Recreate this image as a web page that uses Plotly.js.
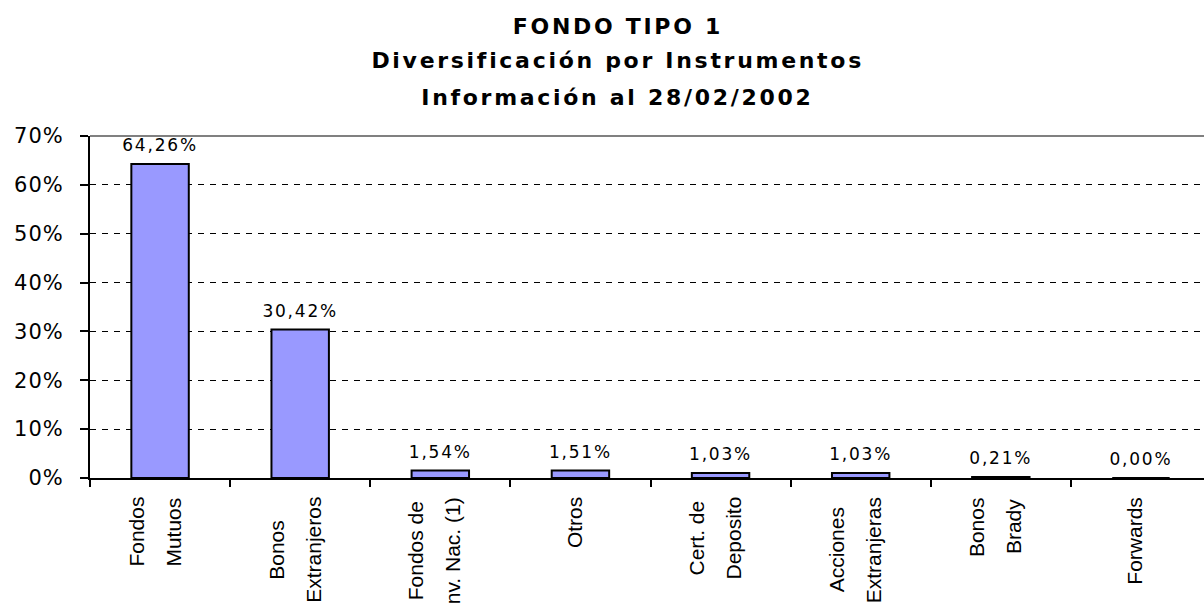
<!DOCTYPE html>
<html>
<head>
<meta charset="utf-8">
<script src="https://cdn.plot.ly/plotly-3.0.1.min.js"></script>
<style>
html,body{margin:0;padding:0;background:#fff;}
#chart{width:1204px;height:605px;}
.textpoint text{letter-spacing:1.8px;}
.ytick text{letter-spacing:1px;}
</style>
</head>
<body>
<div id="chart"></div>
<script>
const titleLines = ["FONDO TIPO 1", "Diversificación por Instrumentos", "Información al 28/02/2002"];
const categories = ["Fondos Mutuos", "Bonos Extranjeros", "Fondos de Inv. Nac. (1)", "Otros", "Cert. de Deposito", "Acciones Extranjeras", "Bonos Brady", "Forwards"];
const tickLabels = ["Fondos<br>Mutuos", "Bonos<br>Extranjeros", "Fondos de<br>nv. Nac. (1)", "Otros", "Cert. de<br>Deposito", "Acciones<br>Extranjeras", "Bonos<br>Brady", "Forwards"];
const values = [64.26, 30.42, 1.54, 1.51, 1.03, 1.03, 0.21, 0.00];
const yTicks = [0, 10, 20, 30, 40, 50, 60, 70];
const yTickLabels = ["0%", "10%", "20%", "30%", "40%", "50%", "60%", "70%"];

const LABEL_FONT = {family: 'Liberation Sans, Arial, sans-serif', size: 21, color: '#000'};
const TITLE_FONT = {family: 'DejaVu Sans, Verdana, sans-serif', size: 22, color: '#000', weight: 700};

const ctx = document.createElement('canvas').getContext('2d');
ctx.font = '21px "Liberation Sans", Arial, sans-serif';

const annotations = [];
const titleY = [26, 60, 97];
titleLines.forEach((t, i) => {
  annotations.push({
    text: t, xref: 'paper', yref: 'paper', x: 0.4736, y: 1, yshift: 136 - titleY[i],
    xanchor: 'center', yanchor: 'middle', showarrow: false, font: TITLE_FONT
  });
});
tickLabels.forEach((lab, i) => {
  const lines = lab.split('<br>');
  const n = lines.length;
  const maxLen = Math.max(...lines.map(l => ctx.measureText(l).width));
  lines.forEach((ln, j) => {
    annotations.push({
      text: ln, xref: 'x', yref: 'paper', x: categories[i], y: 0,
      xanchor: 'center', yanchor: 'middle',
      xshift: (j - (n - 1) / 2) * 37 - 6,
      yshift: -(19 + maxLen / 2),
      textangle: -90, showarrow: false, font: LABEL_FONT
    });
  });
});

const bars = {
  type: 'bar',
  x: categories,
  y: values,
  width: 0.41,
  marker: {color: '#9999FF', line: {color: '#000000', width: 2}},
  hoverinfo: 'x+y'
};

const labels = {
  type: 'scatter',
  mode: 'markers+text',
  x: categories,
  y: values,
  marker: {size: 12, color: 'rgba(0,0,0,0)'},
  texttemplate: '%{y:.2f}%',
  textposition: 'top center',
  textfont: {family: 'DejaVu Sans, Verdana, sans-serif', size: 17, color: '#000'},
  cliponaxis: false,
  hoverinfo: 'skip'
};

const layout = {
  width: 1204, height: 605,
  paper_bgcolor: '#ffffff', plot_bgcolor: '#ffffff',
  separators: ',.',
  margin: {l: 90, r: 0, t: 136, b: 127},
  showlegend: false,
  xaxis: {
    type: 'category',
    range: [-0.5, 7.45],
    showticklabels: false,
    showline: true, linecolor: '#000', linewidth: 2,
    ticks: 'outside', ticklen: 7, tickwidth: 2, tickcolor: '#000',
    tickson: 'boundaries',
    showgrid: false, zeroline: false,
    fixedrange: true
  },
  yaxis: {
    range: [0, 70],
    tickvals: yTicks,
    ticktext: yTickLabels,
    tickfont: {family: 'DejaVu Sans, Verdana, sans-serif', size: 21, color: '#000'},
    ticklabelstandoff: 12,
    showline: true, linecolor: '#000', linewidth: 2,
    ticks: 'outside', ticklen: 8, tickwidth: 2, tickcolor: '#000',
    showgrid: true, gridcolor: '#000', gridwidth: 1, griddash: '6px,6px',
    zeroline: false,
    fixedrange: true
  },
  annotations: annotations,
  shapes: [{
    type: 'line', xref: 'paper', yref: 'paper', x0: 0, x1: 1, y0: 1, y1: 1,
    line: {color: '#808080', width: 2}
  }]
};

Plotly.newPlot('chart', [bars, labels], layout, {displayModeBar: false, staticPlot: true}).then(() => {
  const texts = document.querySelectorAll('.annotation-text');
  for (let i = 0; i < titleLines.length && i < texts.length; i++) {
    texts[i].style.letterSpacing = '2.7px';
  }
});
</script>
</body>
</html>
